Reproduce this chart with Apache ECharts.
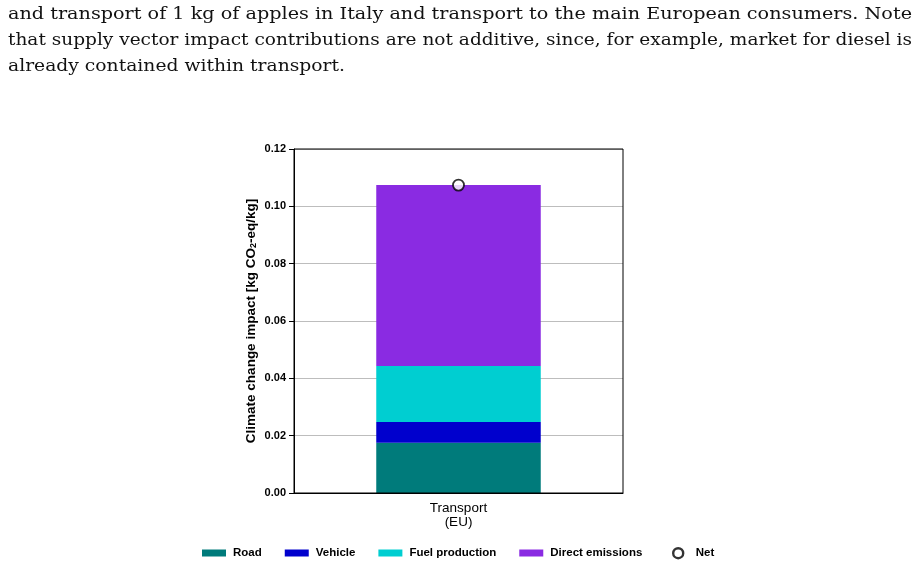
<!DOCTYPE html>
<html><head><meta charset="utf-8">
<script src="https://cdn.jsdelivr.net/npm/echarts@6/dist/echarts.min.js"></script>
<style>html,body{margin:0;padding:0;background:#fff}#c{width:918px;height:567px}</style>
</head><body><div id="c"></div>
<script>
const categories = ['Transport\n(EU)'];
const road = [0.0175];
const vehicle = [0.0073];
const fuelProduction = [0.0195];
const directEmissions = [0.0631];
const net = [0.1074];
const yTicks = [0, 0.02, 0.04, 0.06, 0.08, 0.10, 0.12];
const captionLines = [
  'and transport of 1 kg of apples in Italy and transport to the main European consumers. Note',
  'that supply vector impact contributions are not additive, since, for example, market for diesel is',
  'already contained within transport.'
];
const captionWidths = [904, 904, 337];

const chart = echarts.init(document.getElementById('c'), null, {renderer: 'canvas'});
const sans = 'Liberation Sans, Arial, sans-serif';
const captionFont = '17.5px "DejaVu Serif", "Liberation Serif", serif';
const ctx = document.createElement('canvas').getContext('2d');
ctx.font = captionFont;
const captionGraphics = captionLines.map((t, i) => {
  const w = ctx.measureText(t).width;
  return {
    type: 'text', x: 8, y: 5 + i * 26.4, scaleX: captionWidths[i] / w, originX: 0,
    style: {text: t, font: captionFont, fill: '#111'}
  };
});
const bar = (name, data, color) => ({
  name, type: 'bar', stack: 's', data, barWidth: '50%',
  itemStyle: {color}, emphasis: {disabled: true}
});
const rectIcon = 'path://M0,0h24v7h-24z';
const legendText = {fontFamily: sans, fontWeight: 'bold', fontSize: 11.5, color: '#000', padding: [0, 0, 0, 2]};
chart.setOption({
  animation: false,
  graphic: captionGraphics,
  grid: {left: 294, right: 295, top: 149, bottom: 74, containLabel: false, show: false},
  legend: [{
    top: 542, left: 197, itemGap: 23, itemWidth: 24, itemHeight: 10,
    textStyle: legendText,
    data: [
      {name: 'Road', icon: rectIcon}, {name: 'Vehicle', icon: rectIcon},
      {name: 'Fuel production', icon: rectIcon}, {name: 'Direct emissions', icon: rectIcon}
    ],
    selectedMode: false
  }, {
    top: 542, left: 667, itemWidth: 21, itemHeight: 10,
    textStyle: legendText,
    data: [{name: 'Net', icon: 'circle', itemStyle: {color: '#fff', borderColor: '#000', borderWidth: 2.4}}],
    selectedMode: false
  }],
  xAxis: {
    type: 'category', data: categories,
    axisLine: {lineStyle: {color: '#000', width: 1}},
    axisTick: {alignWithLabel: true, length: 5, lineStyle: {color: '#000'}},
    axisLabel: {fontFamily: sans, fontSize: 13.5, color: '#000', lineHeight: 14.5, margin: 8}
  },
  yAxis: {
    type: 'value', min: 0, max: 0.12, interval: 0.02,
    name: '{t|Climate change impact [kg CO}{s|2}{t|-eq/kg]}', nameLocation: 'middle', nameGap: 36,
    nameTextStyle: {
      rich: {
        t: {fontFamily: sans, fontWeight: 'bold', fontSize: 13.5, color: '#000'},
        s: {fontFamily: sans, fontWeight: 'bold', fontSize: 9, color: '#000', verticalAlign: 'bottom', padding: [5, 0, 0, 0]}
      }
    },
    axisLine: {show: true, lineStyle: {color: '#000'}},
    axisTick: {show: true, length: 5, lineStyle: {color: '#000'}},
    axisLabel: {fontFamily: sans, fontWeight: 'bold', fontSize: 11, color: '#000', margin: 8,
      formatter: v => { const t = yTicks.find(x => Math.abs(x - v) < 1e-9); return (t !== undefined ? t : v).toFixed(2); }},
    splitLine: {lineStyle: {color: '#bdbdbd', width: 1}}
  },
  series: [
    bar('Road', road, '#007b7b'),
    bar('Vehicle', vehicle, '#0000cd'),
    bar('Fuel production', fuelProduction, '#00ced1'),
    bar('Direct emissions', directEmissions, '#8a2be2'),
    {name: 'Net', type: 'scatter', data: net, symbol: 'circle', symbolSize: 11, z: 5,
     itemStyle: {color: '#fff', borderColor: '#000', borderWidth: 1.8}, emphasis: {disabled: true}}
  ]
});
const g = chart.getModel().getComponent('grid').coordinateSystem.getRect();
chart.setOption({graphic: captionGraphics.concat([{type: 'rect', shape: {x: g.x, y: g.y, width: g.width, height: g.height},
    style: {fill: null, stroke: '#000', lineWidth: 1}, z: 10, silent: true}])});
</script></body></html>
